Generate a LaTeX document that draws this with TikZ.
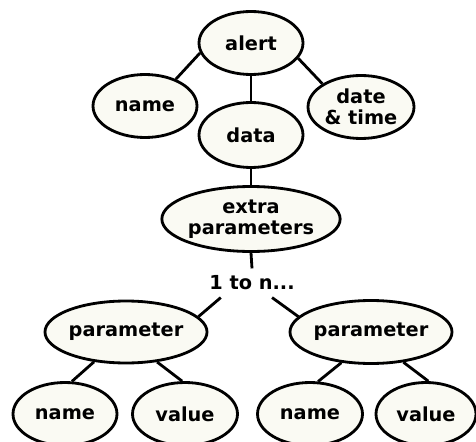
\documentclass[tikz,border=0pt]{standalone}
\usepackage{tikz}
\usepackage{xcolor}
\usepackage{fontspec}
\setmainfont{DejaVu Sans}
\usetikzlibrary{shapes.geometric}
\definecolor{vblack}{HTML}{000000}
\definecolor{vcream}{HTML}{FAFAF3}

\begin{document}
\begin{tikzpicture}[x=0.02cm, y=-0.02cm,
		bubble/.style={ellipse, draw=vblack, fill=vcream, line width=1.6pt, inner sep=0pt, align=center, font=\fontsize{11}{12}\selectfont\bfseries, minimum width=2.08cm, minimum height=1.26cm},
		link/.style={draw=vblack, line width=1.6pt}]
		\useasboundingbox (0,0) rectangle (476,442);
		\node[bubble] (alert) at (251,43) {alert};
		\node[bubble] (name) at (145,106) {name};
		\node[bubble, minimum width=2.12cm] (datetime) at (361,107) {date\\\& time};
		\node[bubble, minimum height=1.3cm] (data) at (251,135) {data};
		\node[bubble, minimum width=3.16cm, minimum height=1.3cm] (extra) at (251,219) {extra\\parameters};
		\node[font=\fontsize{11}{12}\selectfont\bfseries, inner sep=4pt] (count) at (252,283) {1 to n...};
		\node[bubble, minimum width=2.96cm, minimum height=1.24cm] (paramA) at (126,332) {parameter};
		\node[bubble, minimum width=2.96cm] (paramB) at (371,332) {parameter};
		\node[bubble] (nameA) at (65,414) {name};
		\node[bubble, minimum width=2.1cm] (valueA) at (185,414) {value};
		\node[bubble, minimum width=2.1cm] (nameB) at (310,414) {name};
		\node[bubble, minimum width=2.0cm] (valueB) at (426,414) {value};
		\draw[link] (alert.191) -- (name.41);
		\draw[link] (alert.342) -- (datetime.149);
		\draw[link] (alert.south) -- (data.north);
		\draw[link] (data.south) -- (extra.north);
		\draw[link] (extra.south) -- (count.north);
		\draw[link] (count.205) -- (paramA.12);
		\draw[link] (count.324) -- (paramB.168);
		\draw[link] (paramA.223) -- (nameA.78);
		\draw[link] (paramA.316) -- (valueA.95);
		\draw[link] (paramB.226) -- (nameB.76);
		\draw[link] (paramB.317) -- (valueB.86);
	\end{tikzpicture}
\end{document}
